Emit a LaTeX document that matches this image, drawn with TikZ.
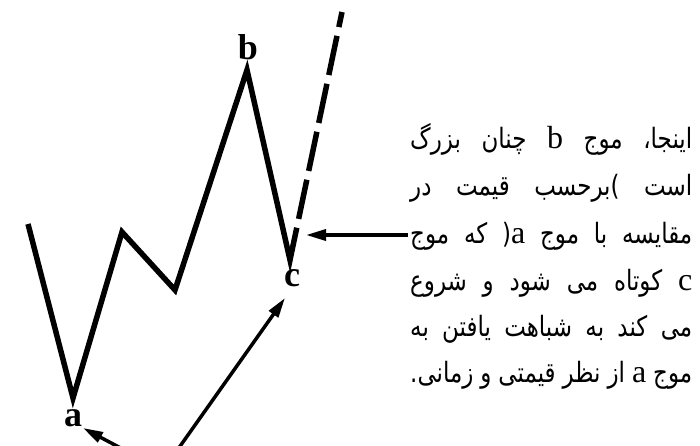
\documentclass[tikz,border=0pt]{standalone}
\usepackage{fontspec}
\setmainfont{Liberation Serif}
\newfontfamily\arabicfont[Script=Arabic,FakeStretch=0.82]{DejaVu Sans}
\newfontfamily\latinserif{Liberation Serif}
\TeXXeTstate=1
\usetikzlibrary{arrows.meta,calc}
\newcommand\lt[1]{{\latinserif\fontsize{32}{32}\selectfont #1}}
\newcommand\jline[1]{\hbox to 282pt{\arabicfont\fontsize{28}{28}\selectfont\spaceskip=.25em plus 1fil minus .1em\relax\beginR #1\endR}}
\begin{document}
\begin{tikzpicture}[x=1pt,y=-1pt,
  wave/.style={line width=5.5pt,line join=miter,line cap=butt},
  dashwave/.style={line width=5.5pt,dash pattern=on 40pt off 9pt},
  pointer/.style={line width=3.5pt,-{Triangle[length=20pt,width=11pt]}},
  lbl/.style={inner sep=0pt,font=\fontsize{36}{36}\selectfont\bfseries},
  txt/.style={inner sep=0pt,anchor=base west}]
\clip (0,0) rectangle (700,446);
% wave vertices
\coordinate (p0) at (28,224);
\coordinate (va) at (73,398);
\coordinate (p2) at (122,232);
\coordinate (p3) at (175,290);
\coordinate (vb) at (247,70);
\coordinate (vc) at (290,260);
\coordinate (top) at (342,12);
\coordinate (d0) at ($(vc)!33pt!(top)$);
\coordinate (d1) at ($(vc)!42pt!(top)$);
\draw[wave] (p0) -- (va) -- (p2) -- (p3) -- (vb) -- (vc) -- (d0);
\draw[dashwave] (d1) -- (top);
% labels
\node[lbl] (la) at (73,418) {a};
\node[lbl] (lb) at (248,47) {b};
\node[lbl] (lc) at (292,278) {c};
% text
\node[txt] (l1) at (410,149) {\jline{اینجا، موج \lt{b} چنان بزرگ}};
\node[txt] (l2) at (410,196) {\jline{است \hbox{)}برحسب قیمت در}};
\node[txt] (l3) at (410,243) {\jline{مقایسه با موج \lt{a}\hbox{(} که موج}};
\node[txt] (l4) at (410,290) {\jline{\lt{c} کوتاه می شود و شروع}};
\node[txt] (l5) at (410,336) {\jline{می کند به شباهت یافتن به}};
\node[txt] (l6) at (410,382) {\jline{موج \lt{a} از نظر قیمتی و زمانی.}};
% arrows
\coordinate (s1) at (408,235);
\coordinate (e1) at (306,235);
\draw[pointer] (s1) -- (e1);
\coordinate (s2) at (171,459);
\coordinate (e2) at (285,298);
\draw[pointer] (s2) -- (e2);
\coordinate (s3) at (130,453);
\coordinate (e3) at (83,428);
\draw[pointer] (s3) -- (e3);
\end{tikzpicture}
\end{document}
